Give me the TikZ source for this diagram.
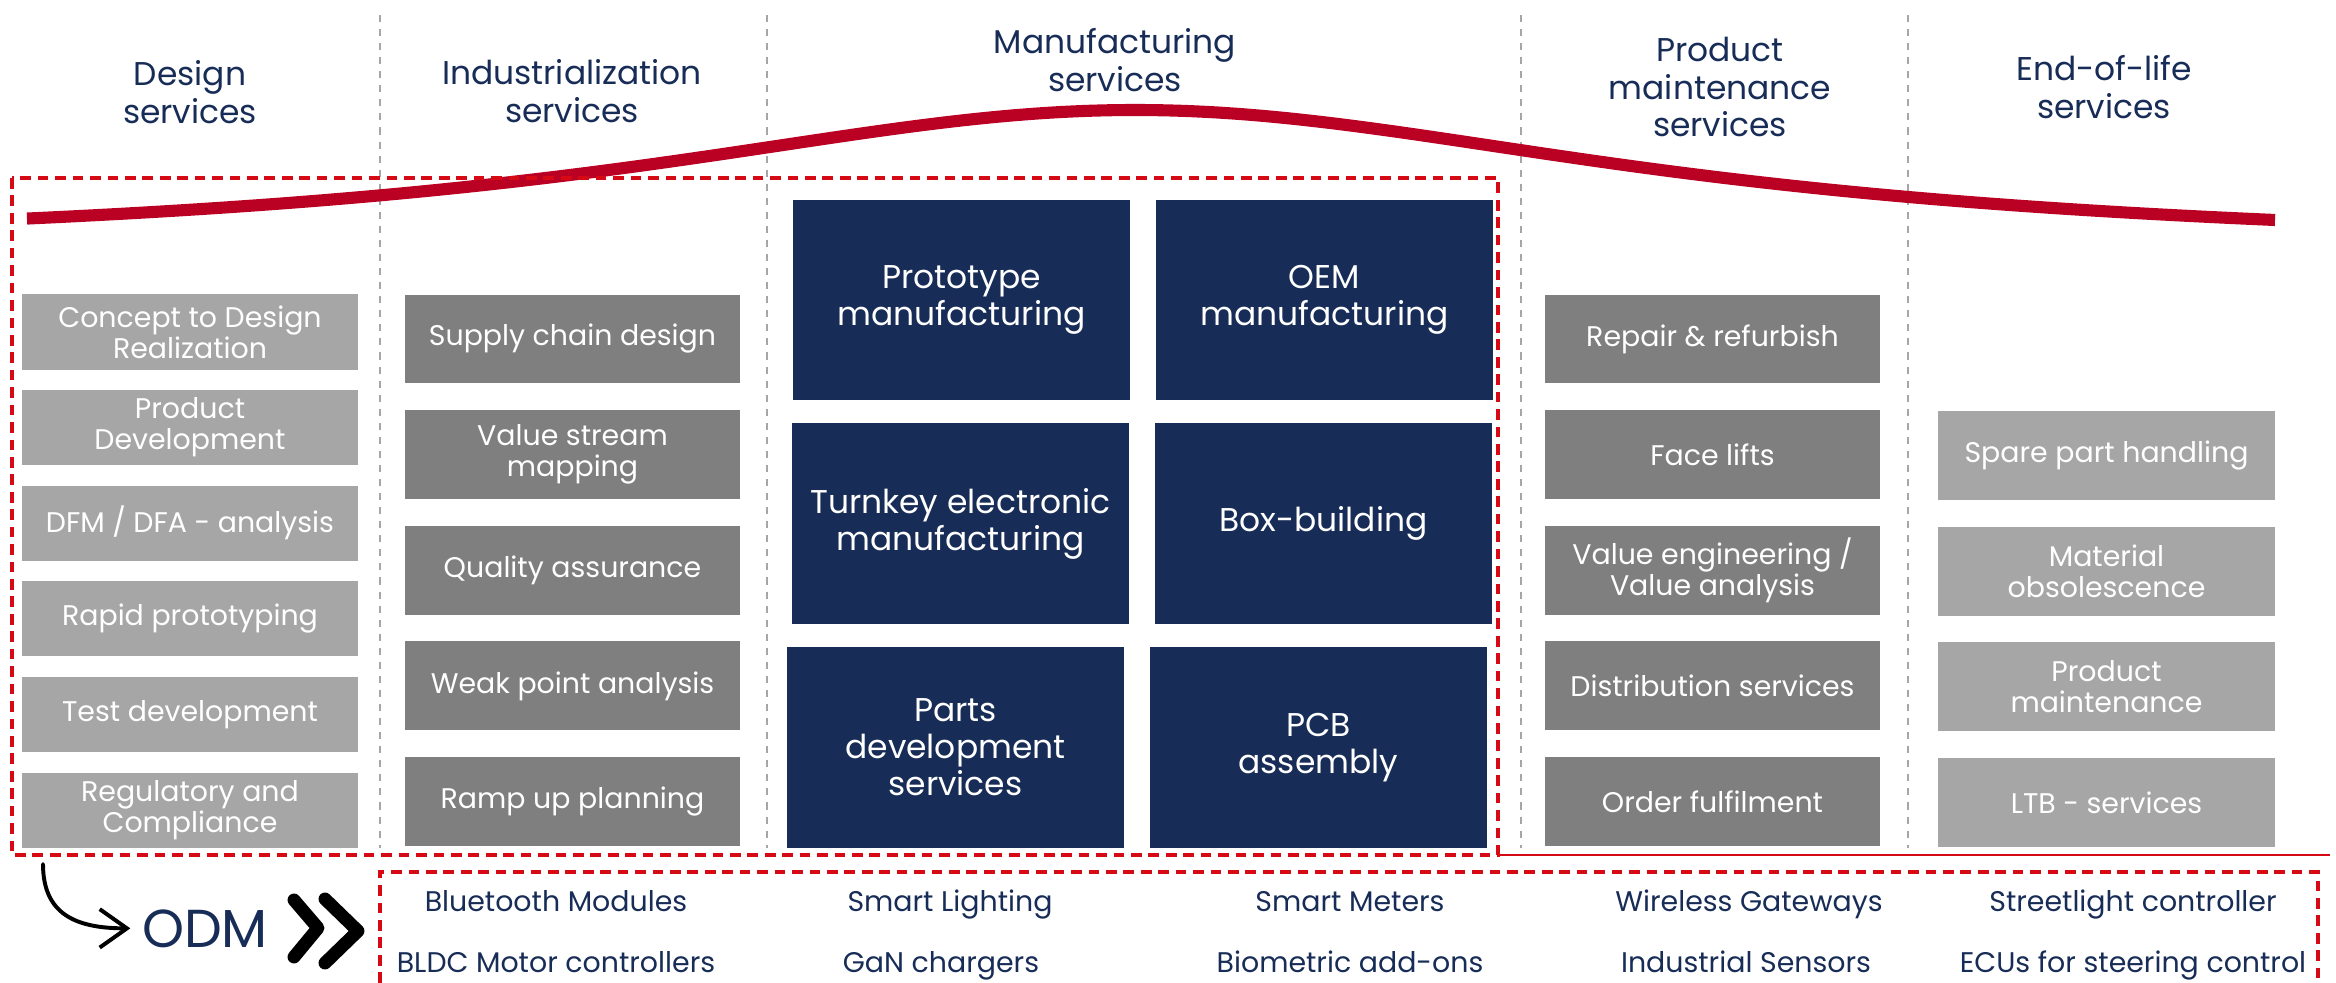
\documentclass[tikz,border=0pt]{standalone}
\usepackage{fontspec}
\setmainfont{Poppins}
\usepackage{tikz}
\usetikzlibrary{positioning, arrows.meta}

\definecolor{navy}{RGB}{23,44,86}
\definecolor{lightgrey}{RGB}{166,166,166}
\definecolor{midgrey}{RGB}{127,127,127}
\definecolor{lifered}{RGB}{186,0,35}
\definecolor{dashred}{RGB}{214,10,20}

\begin{document}
\begin{tikzpicture}[
    x=0.0125cm, y=-0.0125cm,
    header/.style={align=center, text=navy, font=\fontsize{11.7}{13.5}\selectfont},
    servbox/.style={rectangle, align=center, text=white, inner sep=0pt, outer sep=0pt,
        font=\fontsize{10.1}{11}\selectfont},
    lightbox/.style={servbox, fill=lightgrey, minimum width=4.2cm, minimum height=0.94cm},
    greybox/.style={servbox, fill=midgrey, minimum width=4.19cm, minimum height=1.11cm},
    mfgbox/.style={servbox, fill=navy, minimum width=4.21cm, minimum height=2.5cm,
        font=\fontsize{11.7}{13.2}\selectfont},
    item/.style={text=navy, inner sep=0pt, anchor=base, font=\fontsize{10.1}{12}\selectfont},
    phase/.style={draw=lightgrey, line width=0.7pt, dash pattern=on 2.5pt off 2.5pt},
    scopebox/.style={draw=dashred, line width=1.1pt, dash pattern=on 3.8pt off 2.4pt},
    lifecurve/.style={draw=lifered, line width=4.3pt},
    chevron/.style={draw=black, line width=4.6pt, line cap=round, line join=round}
]
\useasboundingbox (0,0) rectangle (2336,983);

% Phase separators
\foreach \x in {380,767,1521,1908}
    \draw[phase] (\x,15) -- (\x,848);

% Headers
\node[header] (hd) at (190,92) {Design\\services};
\node[header] (hi) at (572,91) {Industrialization\\services};
\node[header] (hm) at (1115,60) {Manufacturing\\services};
\node[header] (hp) at (1720,87) {Product\\maintenance\\services};
\node[header] (he) at (2104,87) {End-of-life\\services};

% Life cycle curve
\draw[lifecurve] plot[domain=27:2275, samples=90, smooth]
    (\x, {252-142/(1+((\x-1135)/615)^2)});

% Design services
\node[lightbox] (d1) at (190,332) {Concept to Design\\Realization};
\node[lightbox, below=0.255cm of d1] (d2) {Product\\Development};
\node[lightbox, below=0.255cm of d2] (d3) {DFM / DFA - analysis};
\node[lightbox, below=0.255cm of d3] (d4) {Rapid prototyping};
\node[lightbox, below=0.255cm of d4] (d5) {Test development};
\node[lightbox, below=0.255cm of d5] (d6) {Regulatory and\\Compliance};

% Industrialization services
\node[greybox] (i1) at (572.5,339) {Supply chain design};
\node[greybox, below=0.335cm of i1] (i2) {Value stream\\mapping};
\node[greybox, below=0.335cm of i2] (i3) {Quality assurance};
\node[greybox, below=0.335cm of i3] (i4) {Weak point analysis};
\node[greybox, below=0.335cm of i4] (i5) {Ramp up planning};

% Manufacturing services
\node[mfgbox] (m1) at (961.5,300) {Prototype\\manufacturing};
\node[mfgbox, right=0.325cm of m1] (m2) {OEM\\manufacturing};
\node[mfgbox] (m3) at (960.5,523.5) {Turnkey electronic\\manufacturing};
\node[mfgbox, right=0.325cm of m3] (m4) {Box-building};
\node[mfgbox] (m5) at (955.5,747.5) {Parts\\development\\services};
\node[mfgbox, right=0.325cm of m5] (m6) {PCB\\assembly};

% Product maintenance services
\node[greybox] (p1) at (1712.5,339) {Repair \& refurbish};
\node[greybox, below=0.335cm of p1] (p2) {Face lifts};
\node[greybox, below=0.335cm of p2] (p3) {Value engineering /\\Value analysis};
\node[greybox, below=0.335cm of p3] (p4) {Distribution services};
\node[greybox, below=0.335cm of p4] (p5) {Order fulfilment};

% End-of-life services
\node[lightbox, minimum height=1.11cm] (e1) at (2106.5,455.5) {Spare part handling};
\node[lightbox, minimum height=1.11cm, below=0.335cm of e1] (e2) {Material\\obsolescence};
\node[lightbox, minimum height=1.11cm, below=0.335cm of e2] (e3) {Product\\maintenance};
\node[lightbox, minimum height=1.11cm, below=0.335cm of e3] (e4) {LTB - services};

% ODM scope
\draw[scopebox] (12,178) rectangle (1498,855);
\draw[dashred, line width=0.5pt] (1498,855) -- (2330,855);
\draw[scopebox] (380,983) -- (380,872) -- (2318,872) -- (2318,983);

\node[text=navy, inner sep=0pt, anchor=base, font=\fontsize{19}{22}\selectfont] (odm) at (205,947) {ODM};
\coordinate (arrstart) at (43,864);
\draw[line width=1.4pt, line cap=round, -{Straight Barb[length=3.4mm, width=4.8mm]}]
    (arrstart) .. controls +(0,50) and +(-55,0) .. ([xshift=-0.14cm]odm.west);

\draw[chevron] (294,900) -- (318,928) -- (294,957);
\draw[chevron] (325,899) -- (358,931) -- (325,963);

% Products
\node[item] (b1) at (556,911) {Bluetooth Modules};
\node[item] (b2) at (556,972) {BLDC Motor controllers};
\node[item] (b3) at (950,911) {Smart Lighting};
\node[item] (b4) at (941,972) {GaN chargers};
\node[item] (b5) at (1350,911) {Smart Meters};
\node[item] (b6) at (1350,972) {Biometric add-ons};
\node[item] (b7) at (1749,911) {Wireless Gateways};
\node[item] (b8) at (1746,972) {Industrial Sensors};
\node[item] (b9) at (2133,911) {Streetlight controller};
\node[item] (b10) at (2133,972) {ECUs for steering control};

\end{tikzpicture}
\end{document}
